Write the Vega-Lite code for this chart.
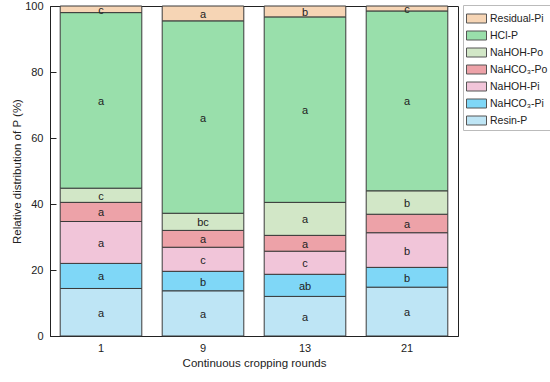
{
  "$schema": "https://vega.github.io/schema/vega-lite/v6.json",
  "width": 408,
  "height": 330,
  "autosize": {"type": "none"},
  "padding": {"left": 50, "top": 6, "right": 92, "bottom": 46},
  "config": {
    "font": "Liberation Sans",
    "view": {"stroke": "#222", "strokeWidth": 1},
    "axis": {"labelColor": "#222", "titleColor": "#222", "domainColor": "#222", "tickColor": "#222", "grid": false, "titleFontWeight": "normal", "labelFontSize": 11, "titleFontSize": 11.5}
  },
  "data": {
    "values": [
      {"round": "1", "fraction": "Resin-P", "value": 14.4, "letter": "a"},
      {"round": "1", "fraction": "NaHCO₃-Pi", "value": 7.6, "letter": "a"},
      {"round": "1", "fraction": "NaHOH-Pi", "value": 12.7, "letter": "a"},
      {"round": "1", "fraction": "NaHCO₃-Po", "value": 5.8, "letter": "a"},
      {"round": "1", "fraction": "NaHOH-Po", "value": 4.3, "letter": "c"},
      {"round": "1", "fraction": "HCl-P", "value": 53.2, "letter": "a"},
      {"round": "1", "fraction": "Residual-Pi", "value": 2.0, "letter": "c"},
      {"round": "9", "fraction": "Resin-P", "value": 13.7, "letter": "a"},
      {"round": "9", "fraction": "NaHCO₃-Pi", "value": 5.9, "letter": "b"},
      {"round": "9", "fraction": "NaHOH-Pi", "value": 7.3, "letter": "c"},
      {"round": "9", "fraction": "NaHCO₃-Po", "value": 5.1, "letter": "a"},
      {"round": "9", "fraction": "NaHOH-Po", "value": 5.2, "letter": "bc"},
      {"round": "9", "fraction": "HCl-P", "value": 58.3, "letter": "a"},
      {"round": "9", "fraction": "Residual-Pi", "value": 4.5, "letter": "a"},
      {"round": "13", "fraction": "Resin-P", "value": 12.0, "letter": "a"},
      {"round": "13", "fraction": "NaHCO₃-Pi", "value": 6.7, "letter": "ab"},
      {"round": "13", "fraction": "NaHOH-Pi", "value": 7.0, "letter": "c"},
      {"round": "13", "fraction": "NaHCO₃-Po", "value": 4.8, "letter": "a"},
      {"round": "13", "fraction": "NaHOH-Po", "value": 10.0, "letter": "a"},
      {"round": "13", "fraction": "HCl-P", "value": 56.2, "letter": "a"},
      {"round": "13", "fraction": "Residual-Pi", "value": 3.3, "letter": "b"},
      {"round": "21", "fraction": "Resin-P", "value": 14.8, "letter": "a"},
      {"round": "21", "fraction": "NaHCO₃-Pi", "value": 6.0, "letter": "b"},
      {"round": "21", "fraction": "NaHOH-Pi", "value": 10.5, "letter": "b"},
      {"round": "21", "fraction": "NaHCO₃-Po", "value": 5.6, "letter": "a"},
      {"round": "21", "fraction": "NaHOH-Po", "value": 7.1, "letter": "b"},
      {"round": "21", "fraction": "HCl-P", "value": 54.5, "letter": "a"},
      {"round": "21", "fraction": "Residual-Pi", "value": 1.5, "letter": "c"}
    ]
  },
  "transform": [
    {"calculate": "indexof(['Resin-P','NaHCO₃-Pi','NaHOH-Pi','NaHCO₃-Po','NaHOH-Po','HCl-P','Residual-Pi'], datum.fraction)", "as": "k"},
    {"stack": "value", "groupby": ["round"], "sort": [{"field": "k", "order": "ascending"}], "as": ["y0", "y1"]},
    {"calculate": "(datum.y0 + datum.y1) / 2", "as": "ym"}
  ],
  "encoding": {
    "x": {
      "field": "round", "type": "nominal", "sort": ["1", "9", "13", "21"],
      "scale": {"paddingInner": 0.2, "paddingOuter": 0.1},
      "axis": {"labelAngle": 0, "title": "Continuous cropping rounds", "tickSize": -5, "labelPadding": 11.5, "titlePadding": 4}
    }
  },
  "layer": [
    {
      "mark": {"type": "bar", "stroke": "#3a3a3a", "strokeWidth": 1},
      "encoding": {
        "y": {"field": "y0", "type": "quantitative", "scale": {"domain": [0, 100], "nice": false},
          "axis": {"title": "Relative distribution of P (%)", "values": [0, 20, 40, 60, 80, 100], "tickSize": -6, "labelPadding": 13, "titlePadding": 2}},
        "y2": {"field": "y1"},
        "color": {
          "field": "fraction", "type": "nominal",
          "scale": {
            "domain": ["Residual-Pi", "HCl-P", "NaHOH-Po", "NaHCO₃-Po", "NaHOH-Pi", "NaHCO₃-Pi", "Resin-P"],
            "range": ["#f6d5b5", "#99dfab", "#d2e7c7", "#eda2a8", "#f1c5d9", "#7fd7f7", "#bee5f5"]
          },
          "legend": {
            "title": null, "orient": "none", "legendX": 413, "legendY": -1,
            "padding": 3, "strokeColor": "#bbbbbb", "fillColor": "white",
            "symbolType": "M-1,-0.45H1V0.45H-1Z", "symbolSize": 400,
            "symbolStrokeColor": "#555", "symbolStrokeWidth": 1, "symbolOpacity": 1,
            "labelFontSize": 10.5, "labelColor": "#222", "rowPadding": -0.6, "labelOffset": 3
          }
        }
      }
    },
    {
      "mark": {"type": "text", "fontSize": 11, "color": "#222", "dy": 1.5},
      "encoding": {
        "y": {"field": "ym", "type": "quantitative"},
        "text": {"field": "letter"}
      }
    }
  ]
}
